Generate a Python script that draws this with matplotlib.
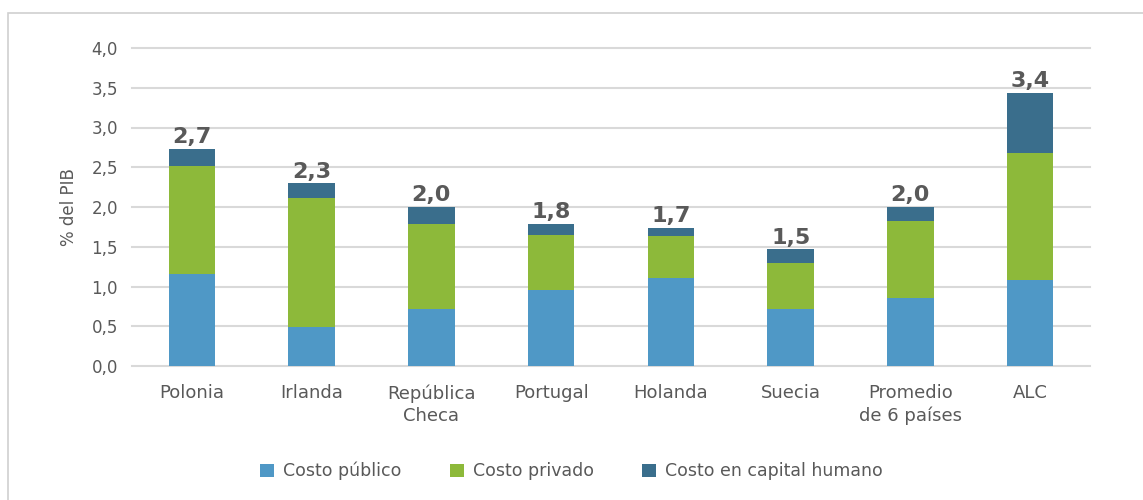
import numpy as np
import matplotlib.pyplot as plt
from matplotlib.patches import Rectangle

# data (% del PIB)
categories = ["Polonia", "Irlanda", "República\nCheca", "Portugal", "Holanda",
              "Suecia", "Promedio\nde 6 países", "ALC"]
costo_publico = [1.16, 0.49, 0.72, 0.95, 1.11, 0.72, 0.85, 1.08]
costo_privado = [1.36, 1.62, 1.07, 0.70, 0.52, 0.58, 0.97, 1.60]
costo_humano = [0.21, 0.19, 0.21, 0.14, 0.11, 0.17, 0.18, 0.76]
total_labels = ["2,7", "2,3", "2,0", "1,8", "1,7", "1,5", "2,0", "3,4"]
series_names = ["Costo público", "Costo privado", "Costo en capital humano"]

C_PUB = "#4F98C6"
C_PRIV = "#8DB93A"
C_HUM = "#3A6E8C"
TEXT = "#595959"
GRID = "#D9D9D9"

plt.rcParams["font.family"] = ["DejaVu Sans"]

fig = plt.figure(figsize=(11.43, 5.0), dpi=100)
ax = fig.add_axes([132 / 1143, 1 - 366 / 500, (1090 - 132) / 1143, (366 - 48) / 500])

# light frame round the whole chart
fig.patches.append(Rectangle((8 / 1143, -0.1), 1.2, 1 - 13 / 500 + 0.1,
                             transform=fig.transFigure, fill=False,
                             edgecolor="#D0D0D0", linewidth=1.2))

x = np.arange(len(categories))
w = 0.39
pub = np.array(costo_publico)
priv = np.array(costo_privado)
hum = np.array(costo_humano)

ax.bar(x, pub, w, color=C_PUB, label=series_names[0], zorder=3)
ax.bar(x, priv, w, bottom=pub, color=C_PRIV, label=series_names[1], zorder=3)
ax.bar(x, hum, w, bottom=pub + priv, color=C_HUM, label=series_names[2], zorder=3)

tops = pub + priv + hum
for xi, t, lab in zip(x, tops, total_labels):
    ax.text(xi, t + 0.02, lab, ha="center", va="bottom", fontsize=16,
            fontweight="bold", color=TEXT)

ax.set_xlim(-0.5, len(categories) - 0.5)
ax.set_ylim(0, 4.0)
yt = np.arange(0, 4.01, 0.5)
ax.set_yticks(yt)
ax.set_yticklabels([f"{v:.1f}".replace(".", ",") for v in yt])
ax.set_xticks(x)
ax.set_xticklabels(categories, linespacing=1.3)
ax.tick_params(length=0, labelsize=12, colors=TEXT)
ax.tick_params(axis="x", pad=13, labelsize=13)
ax.tick_params(axis="y", pad=10)
ax.grid(axis="y", color=GRID, linewidth=1.5, zorder=0)
# keep the edge gridlines (0 and 4,0) at full width
for gl in ax.get_ygridlines():
    gl.set_clip_on(False)
for s in ax.spines.values():
    s.set_visible(False)
ax.set_ylabel("% del PIB", fontsize=12, color=TEXT, labelpad=10)

fig.legend(loc="center", bbox_to_anchor=(0.5, 1 - 471 / 500), ncol=3,
           frameon=False, fontsize=12.5, labelcolor=TEXT, handlelength=0.8,
           handleheight=0.8, handletextpad=0.5, columnspacing=2.8)

fig.savefig("out.png", dpi=100)
